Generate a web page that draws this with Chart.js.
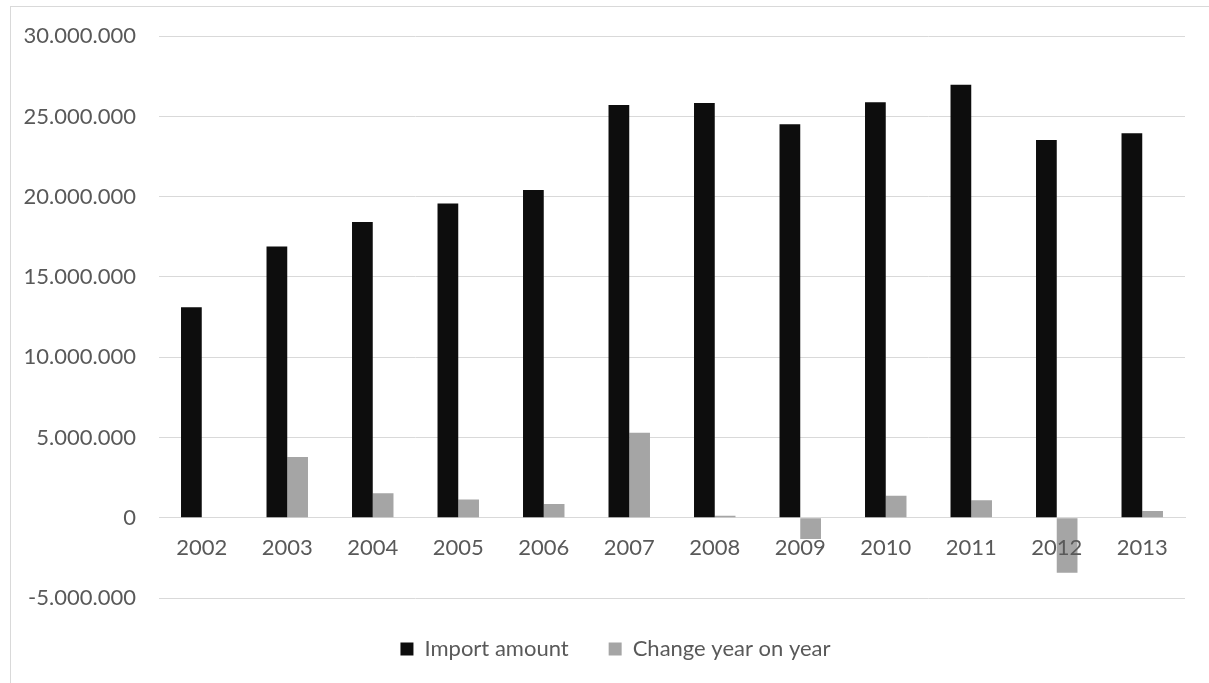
<!DOCTYPE html>
<html>
<head>
<meta charset="utf-8">
<script src="https://cdn.jsdelivr.net/npm/chart.js@4/dist/chart.umd.min.js"></script>
<style>
  html, body { margin: 0; padding: 0; background: #fff; overflow: hidden; }
  #wrap { position: relative; width: 1209px; height: 683px; }
  #frame { position: absolute; left: 10px; top: 6px; width: 1300px; height: 800px; border: 1px solid #d9d9d9; }
  #chart { position: absolute; left: 0; top: 0; }
</style>
</head>
<body>
<div id="wrap">
  <div id="frame"></div>
  <canvas id="chart" width="1209" height="683"></canvas>
</div>
<script>
let years = ['2002','2003','2004','2005','2006','2007','2008','2009','2010','2011','2012','2013'];
let importAmount = [13110000, 16900000, 18430000, 19570000, 20420000, 25720000, 25840000, 24510000, 25880000, 26970000, 23540000, 23960000];
let changeYoY = [0, 3790000, 1530000, 1140000, 850000, 5300000, 120000, -1330000, 1370000, 1090000, -3430000, 420000];
let seriesNames = ['Import amount', 'Change year on year'];
let colorHex = ['#0d0d0d', '#a5a5a5'];

// 30000000 -> "30.000.000"
function dotted(v) {
  let s = Math.abs(v).toString().replace(/\B(?=(\d{3})+(?!\d))/g, '.');
  return (v < 0 ? '-' : '') + s;
}

// center the legend under the frame instead of the whole canvas
const legendShift = {
  id: 'legendShift',
  afterLayout(chart) {
    if (chart.legend) chart.legend.left += 46;
  }
};

let ctx = document.getElementById('chart').getContext('2d');
let font = { family: 'Lato', size: 22 };

let myChart = new Chart(ctx, {
  type: 'bar',
  data: {
    labels: years,
    datasets: [{
      label: seriesNames[0],
      data: importAmount,
      backgroundColor: colorHex[0],
      categoryPercentage: 0.485,
      barPercentage: 1.0
    }, {
      label: seriesNames[1],
      data: changeYoY,
      backgroundColor: colorHex[1],
      categoryPercentage: 0.485,
      barPercentage: 1.0
    }]
  },
  options: {
    responsive: false,
    animation: false,
    layout: {
      padding: { left: 0, right: 24, top: 36, bottom: 13 }
    },
    plugins: {
      tooltip: { enabled: false },
      legend: {
        position: 'bottom',
        labels: {
          color: '#595959',
          font: font,
          boxWidth: 13,
          boxHeight: 13,
          padding: 40
        }
      }
    },
    scales: {
      x: {
        position: { y: 0 },
        grid: { display: false },
        border: { color: '#d9d9d9' },
        // year labels sit on top of the negative bars
        ticks: { color: '#595959', font: font, padding: 9, maxRotation: 0, z: 1 }
      },
      y: {
        min: -5000000,
        max: 30000000,
        grid: { color: '#d9d9d9', drawTicks: false },
        border: { display: false },
        ticks: {
          stepSize: 5000000,
          color: '#595959',
          font: font,
          padding: 23,
          callback: (v) => dotted(v)
        },
        afterFit: (scale) => { scale.width = 159; }
      }
    }
  },
  plugins: [legendShift]
});
</script>
</body>
</html>
